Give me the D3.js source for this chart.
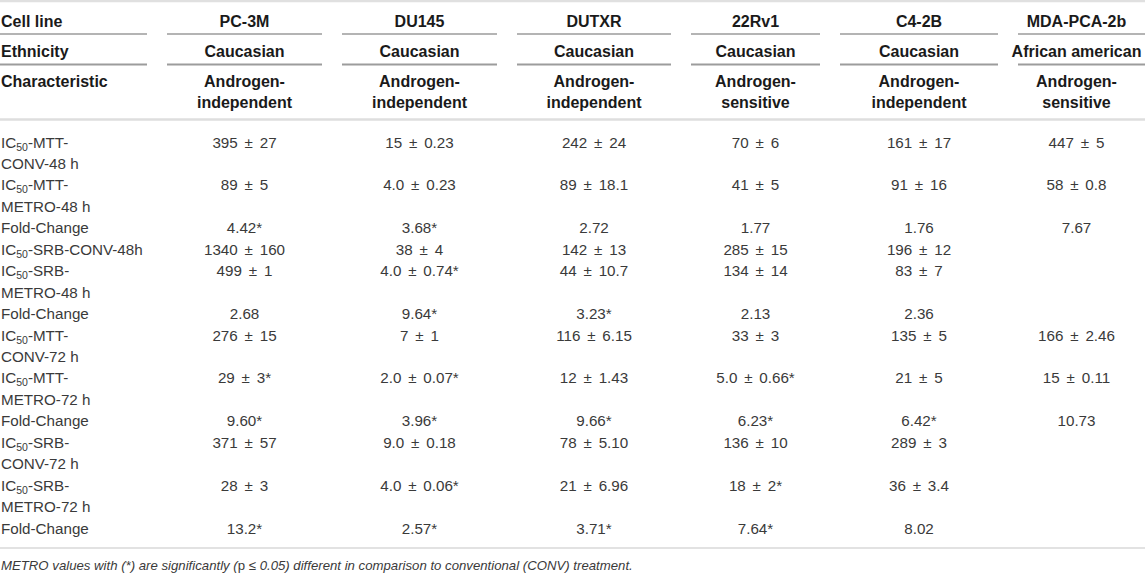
<!DOCTYPE html>
<html>
<head>
<meta charset="utf-8">
<script src="https://cdn.jsdelivr.net/npm/d3@7"></script>
<style>
  body { margin: 0; background: #fff; }
  svg { display: block; }
  .head { font-family: "Liberation Sans", Arial, sans-serif; font-weight: bold; font-size: 16px; fill: #1a1a1a; }
  .cell { font-family: "Liberation Sans", Arial, sans-serif; font-size: 15.2px; fill: #3a3a3a; }
  .value { word-spacing: 2.6px; }
  .note { font-family: "Liberation Sans", Arial, sans-serif; font-size: 13.2px; font-style: italic; fill: #3a3a3a; }
</style>
</head>
<body>
<svg width="1145" height="573"></svg>
<script>
// table content
const cellLines = ['PC-3M', 'DU145', 'DUTXR', '22Rv1', 'C4-2B', 'MDA-PCA-2b'];
const ethnicity = ['Caucasian', 'Caucasian', 'Caucasian', 'Caucasian', 'Caucasian', 'African american'];
const characteristic = [
  ['Androgen-', 'independent'], ['Androgen-', 'independent'], ['Androgen-', 'independent'],
  ['Androgen-', 'sensitive'], ['Androgen-', 'independent'], ['Androgen-', 'sensitive']
];
const rowLabels = [
  ['IC50-MTT-', 'CONV-48 h'], ['IC50-MTT-', 'METRO-48 h'], ['Fold-Change'],
  ['IC50-SRB-CONV-48h'], ['IC50-SRB-', 'METRO-48 h'], ['Fold-Change'],
  ['IC50-MTT-', 'CONV-72 h'], ['IC50-MTT-', 'METRO-72 h'], ['Fold-Change'],
  ['IC50-SRB-', 'CONV-72 h'], ['IC50-SRB-', 'METRO-72 h'], ['Fold-Change']
];
const pc3m  = ['395 ± 27', '89 ± 5', '4.42*', '1340 ± 160', '499 ± 1', '2.68', '276 ± 15', '29 ± 3*', '9.60*', '371 ± 57', '28 ± 3', '13.2*'];
const du145 = ['15 ± 0.23', '4.0 ± 0.23', '3.68*', '38 ± 4', '4.0 ± 0.74*', '9.64*', '7 ± 1', '2.0 ± 0.07*', '3.96*', '9.0 ± 0.18', '4.0 ± 0.06*', '2.57*'];
const dutxr = ['242 ± 24', '89 ± 18.1', '2.72', '142 ± 13', '44 ± 10.7', '3.23*', '116 ± 6.15', '12 ± 1.43', '9.66*', '78 ± 5.10', '21 ± 6.96', '3.71*'];
const rv1   = ['70 ± 6', '41 ± 5', '1.77', '285 ± 15', '134 ± 14', '2.13', '33 ± 3', '5.0 ± 0.66*', '6.23*', '136 ± 10', '18 ± 2*', '7.64*'];
const c42b  = ['161 ± 17', '91 ± 16', '1.76', '196 ± 12', '83 ± 7', '2.36', '135 ± 5', '21 ± 5', '6.42*', '289 ± 3', '36 ± 3.4', '8.02'];
const mda   = ['447 ± 5', '58 ± 0.8', '7.67', '', '', '', '166 ± 2.46', '15 ± 0.11', '10.73', '', '', ''];
const columnValues = [pc3m, du145, dutxr, rv1, c42b, mda];
const footnote = 'METRO values with (*) are significantly (p ≤ 0.05) different in comparison to conventional (CONV) treatment.';

// layout
const width = 1145;
const colEdges = [0, 157, 332, 507, 681, 830, 1008, 1145];
const pad = 10;

const svg = d3.select('svg');

const colKeys = ['label'].concat(cellLines);
const x0 = d3.scaleOrdinal().domain(colKeys).range(colEdges.slice(0, -1));
const x1 = d3.scaleOrdinal().domain(colKeys).range(colEdges.slice(1));
const xMid = k => (x0(k) + x1(k)) / 2;

// line index -> baseline
const lineY = d3.scaleLinear().domain([0, 1]).range([147.5, 168.95]);

// rules
const rule = (y, w, color) => svg.append('line')
  .attr('x1', 0).attr('x2', width).attr('y1', y).attr('y2', y)
  .attr('stroke', color).attr('stroke-width', w);

rule(1, 2.5, '#e0e0e0');
rule(119.5, 2.5, '#dedede');
rule(548, 2, '#e2e2e2');

const underline = (y, w, color) => svg.append('g').selectAll('line')
  .data(colKeys).join('line')
    .attr('x1', k => k === 'label' ? 0 : x0(k) + pad)
    .attr('x2', (k, i) => i === colKeys.length - 1 ? width : x1(k) - pad)
    .attr('y1', y).attr('y2', y)
    .attr('stroke', color).attr('stroke-width', w);

underline(34, 1.2, '#6a6a6a');
underline(64.5, 2, '#9c9c9c');

// header
const headerRows = [
  { label: 'Cell line', values: cellLines.map(d => [d]), y: 26.5 },
  { label: 'Ethnicity', values: ethnicity.map(d => [d]), y: 56.5 },
  { label: 'Characteristic', values: characteristic, y: 86.5 }
];

headerRows.forEach(row => {
  svg.append('text').attr('class', 'head')
    .attr('x', 1).attr('y', row.y).text(row.label);
  svg.append('g').selectAll('text')
    .data(row.values).join('text')
      .attr('class', 'head')
      .attr('text-anchor', 'middle')
      .attr('x', (d, i) => xMid(cellLines[i]))
      .attr('y', row.y)
    .selectAll('tspan').data(d => d).join('tspan')
      .attr('x', function () { return this.parentNode.getAttribute('x'); })
      .attr('dy', (d, i) => i === 0 ? 0 : 21)
      .text(d => d);
});

// body
let lineStart = 0;
const rows = rowLabels.map((lines, r) => {
  const o = { lines, start: lineStart, values: columnValues.map(c => c[r]) };
  lineStart += lines.length;
  return o;
});

const labelG = svg.append('g');
rows.forEach(row => {
  row.lines.forEach((ln, j) => {
    const t = labelG.append('text').attr('class', 'cell')
      .attr('x', 1).attr('y', lineY(row.start + j));
    if (ln.startsWith('IC50')) {
      t.append('tspan').text('IC');
      t.append('tspan').attr('font-size', '10.5px').attr('dy', 3).text('50');
      t.append('tspan').attr('dy', -3).text(ln.slice(4));
    } else {
      t.text(ln);
    }
  });
});

svg.append('g').selectAll('g')
  .data(rows).join('g')
  .selectAll('text')
  .data(row => row.values.map((v, i) => ({ v, col: cellLines[i], y: lineY(row.start) })))
  .join('text')
    .attr('class', 'cell value')
    .attr('text-anchor', 'middle')
    .attr('x', d => xMid(d.col))
    .attr('y', d => d.y)
    .text(d => d.v);

// footnote
const parts = footnote.split('(p');
const note = svg.append('text').attr('class', 'note').attr('x', 1).attr('y', 570);
note.append('tspan').text(parts[0] + '(');
note.append('tspan').attr('font-style', 'normal').text('p');
note.append('tspan').text(parts[1]);
</script>
</body>
</html>
